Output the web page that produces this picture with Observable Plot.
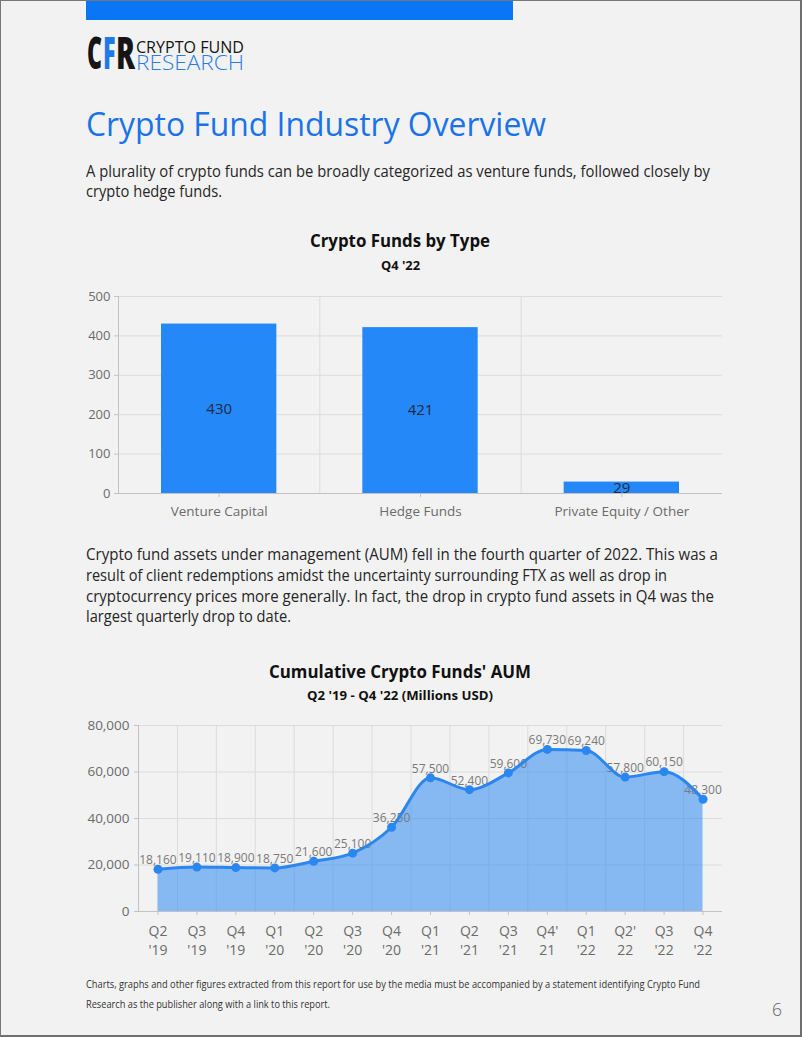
<!DOCTYPE html>
<html>
<head>
<meta charset="utf-8">
<script src="https://cdn.jsdelivr.net/npm/d3@7"></script>
<script src="https://cdn.jsdelivr.net/npm/@observablehq/plot@0.6"></script>
<style>
html,body{margin:0;padding:0;background:#f2f2f2;}
#page{position:relative;width:802px;height:1037px;overflow:hidden;background:#f2f2f2;font-family:"Open Sans",sans-serif;}
.t{position:absolute;left:0;top:0;white-space:pre;transform-origin:0 0;line-height:1.05;}
.chart{position:absolute;}
#frame{position:absolute;left:0;top:0;width:802px;height:1037px;box-sizing:border-box;border:1px solid #777;border-right:2px solid #6f6f6f;border-bottom:2px solid #6f6f6f;pointer-events:none;}
#topbar{position:absolute;left:86px;top:0;width:427px;height:20px;background:#0a76f6;}
</style>
</head>
<body>
<div id="page"><div id="topbar"></div></div>
<script>
// ---------- data ----------
const fundTypes = ["Venture Capital", "Hedge Funds", "Private Equity / Other"];
const fundCounts = [430, 421, 29];
const countTicks = [0, 100, 200, 300, 400, 500];

const quarterLabels = ["Q2\n'19", "Q3\n'19", "Q4\n'19", "Q1\n'20", "Q2\n'20", "Q3\n'20", "Q4\n'20",
  "Q1\n'21", "Q2\n'21", "Q3\n'21", "Q4'\n21", "Q1\n'22", "Q2'\n22", "Q3\n'22", "Q4\n'22"];
const aumValues = [18160, 19110, 18900, 18750, 21600, 25100, 36250, 57500, 52400, 59600, 69730, 69240, 57800, 60150, 48300];
const aumTicks = [0, 20000, 40000, 60000, 80000];

// ---------- page text ----------
const page = document.getElementById("page");
function addText(str, o) {
  const d = document.createElement("div");
  d.className = "t";
  d.style.fontSize = o.size + "px";
  d.style.fontWeight = o.weight || 400;
  d.style.color = o.color || "#222";
  d.style.fontFamily = o.family || '"Open Sans", sans-serif';
  if (o.lh) d.style.lineHeight = o.lh;
  const s = document.createElement("span");
  s.textContent = str;
  const m = document.createElement("i");
  m.style.cssText = "display:inline-block;width:0;height:0;vertical-align:baseline";
  d.append(s, m);
  page.append(d);
  const w = s.getBoundingClientRect().width;
  const base = m.getBoundingClientRect().bottom - d.getBoundingClientRect().top;
  const k = o.width ? o.width / w : 1;
  const tw = o.width || w;
  const left = o.cx !== undefined ? o.cx - tw / 2 : o.x;
  d.style.left = left + "px";
  d.style.top = (o.baseline - base) + "px";
  d.style.transform = `scaleX(${k})`;
}

// logo
addText("C", {x: 87, baseline: 69, size: 44, weight: 800, color: "#151515", width: 15, lh: 0.8});
addText("F", {x: 102.5, baseline: 69, size: 44, weight: 800, color: "#1f7ae8", width: 12.5, lh: 0.8});
addText("R", {x: 115.5, baseline: 69, size: 44, weight: 800, color: "#151515", width: 19, lh: 0.8});
addText("CRYPTO FUND", {x: 136, baseline: 53, size: 16.5, color: "#151515", width: 108, lh: 0.8});
addText("RESEARCH", {x: 136, baseline: 69.5, size: 20, weight: 300, color: "#2a7de1", width: 108, lh: 0.8});

addText("Crypto Fund Industry Overview", {x: 86, baseline: 136, size: 33, color: "#1a73e8", width: 460});
addText("A plurality of crypto funds can be broadly categorized as venture funds, followed closely by", {x: 86, baseline: 177, size: 16.5, color: "#262626", width: 624, lh: 0.95});
addText("crypto hedge funds.", {x: 86, baseline: 197, size: 16.5, color: "#262626", width: 136, lh: 0.95});

addText("Crypto Funds by Type", {cx: 400, baseline: 247, size: 17, weight: 700, color: "#111", width: 180});
addText("Q4 '22", {cx: 400, baseline: 269.5, size: 13, weight: 700, color: "#111", width: 39});

addText("Crypto fund assets under management (AUM) fell in the fourth quarter of 2022. This was a", {x: 86, baseline: 560, size: 16.5, color: "#262626", width: 632, lh: 0.95});
addText("result of client redemptions amidst the uncertainty surrounding FTX as well as drop in", {x: 86, baseline: 581, size: 16.5, color: "#262626", width: 581, lh: 0.95});
addText("cryptocurrency prices more generally. In fact, the drop in crypto fund assets in Q4 was the", {x: 86, baseline: 602, size: 16.5, color: "#262626", width: 628, lh: 0.95});
addText("largest quarterly drop to date.", {x: 86, baseline: 622, size: 16.5, color: "#262626", width: 205, lh: 0.95});

addText("Cumulative Crypto Funds' AUM", {cx: 400, baseline: 678, size: 17, weight: 700, color: "#111", width: 262});
addText("Q2 '19 - Q4 '22 (Millions USD)", {cx: 400, baseline: 700, size: 13, weight: 700, color: "#111", width: 186});

addText("Charts, graphs and other figures extracted from this report for use by the media must be accompanied by a statement identifying Crypto Fund", {x: 86, baseline: 988, size: 10, color: "#333", width: 614});
addText("Research as the publisher along with a link to this report.", {x: 86, baseline: 1008, size: 10, color: "#333", width: 244});
addText("6", {x: 772, baseline: 1016, size: 18, weight: 300, color: "#666", width: 10});

// ---------- chart 1 ----------
const typeData = fundTypes.map((t, i) => ({i, type: t, count: fundCounts[i]}));
const gridColor = "#dcdcdc";
const axisColor = "#c2c2c2";
const labelColor = "#6b6b6b";

const chart1 = Plot.plot({
  width: 650, height: 240,
  marginLeft: 38, marginRight: 8, marginTop: 11, marginBottom: 32,
  style: {background: "transparent", fontFamily: '"Open Sans", sans-serif', fontSize: "13px", overflow: "visible"},
  x: {domain: [0, fundTypes.length]},
  y: {domain: [0, 500]},
  marks: [
    Plot.gridY(countTicks, {stroke: gridColor, strokeOpacity: 1}),
    Plot.ruleX(d3.range(1, fundTypes.length), {stroke: gridColor}),
    Plot.rectY(typeData, {x1: "i", x2: d => d.i + 1, y: "count", fill: "#2488f8", insetLeft: 43, insetRight: 43}),
    Plot.text(typeData, {x: d => d.i + 0.5, y: d => d.count / 2, text: d => String(d.count), fill: "#1d2b47", fontSize: 15}),
    Plot.ruleY([0], {stroke: axisColor}),
    Plot.ruleX([0], {stroke: axisColor}),
    Plot.axisY(countTicks, {tickSize: 4, tickPadding: 4, stroke: axisColor, fill: labelColor, label: null}),
    Plot.axisX(d3.range(fundTypes.length).map(i => i + 0.5), {tickFormat: v => fundTypes[Math.floor(v)], tickSize: 4, tickPadding: 9, fontSize: 13.5, stroke: axisColor, fill: labelColor, label: null})
  ]
});
const c1 = document.createElement("div");
c1.className = "chart";
c1.style.left = "80px"; c1.style.top = "285px";
c1.append(chart1);
page.append(c1);

// ---------- chart 2 ----------
const aumData = aumValues.map((v, i) => ({i, v, q: quarterLabels[i]}));
const fmt = d3.format(",");
const lineBlue = "#2b86ef";

const chart2 = Plot.plot({
  width: 650, height: 250,
  marginLeft: 58, marginRight: 8, marginTop: 10, marginBottom: 54,
  style: {background: "transparent", fontFamily: '"Open Sans", sans-serif', fontSize: "13px", overflow: "visible"},
  x: {domain: [-0.5, aumValues.length - 0.5]},
  y: {domain: [0, 80000]},
  marks: [
    Plot.gridY(aumTicks, {stroke: gridColor, strokeOpacity: 1}),
    Plot.ruleX(d3.range(aumValues.length - 1).map(i => i + 0.5), {stroke: gridColor}),
    Plot.areaY(aumData, {x: "i", y: "v", curve: "monotone-x", fill: "#2d88f2", fillOpacity: 0.55}),
    Plot.text(aumData, {x: "i", y: "v", text: d => fmt(d.v), dy: -9, fill: "#7a7a7a", fontSize: 12}),
    Plot.line(aumData, {x: "i", y: "v", curve: "monotone-x", stroke: lineBlue, strokeWidth: 3}),
    Plot.dot(aumData, {x: "i", y: "v", r: 4.5, fill: lineBlue}),
    Plot.ruleY([0], {stroke: axisColor}),
    Plot.ruleX([-0.5], {stroke: axisColor}),
    Plot.axisY(aumTicks, {tickFormat: fmt, tickSize: 4, tickPadding: 5, fontSize: 13.5, stroke: axisColor, fill: labelColor, label: null}),
    Plot.axisX(d3.range(aumValues.length), {tickFormat: i => quarterLabels[i], tickSize: 4, tickPadding: 8, fontSize: 14, lineHeight: 1.3, stroke: axisColor, fill: labelColor, label: null})
  ]
});
const c2 = document.createElement("div");
c2.className = "chart";
c2.style.left = "80px"; c2.style.top = "715px";
c2.append(chart2);
page.append(c2);

const frame = document.createElement("div");
frame.id = "frame";
page.append(frame);
</script>
</body>
</html>
